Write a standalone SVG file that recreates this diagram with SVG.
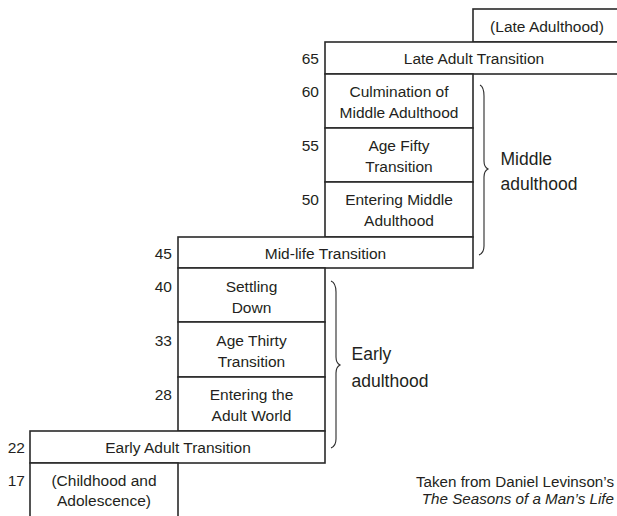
<svg xmlns="http://www.w3.org/2000/svg" width="617" height="516" viewBox="0 0 617 516">
<style>
  .box { fill: #ffffff; stroke: #2a2a2a; stroke-width: 1.6; }
  .t { font-family: "Liberation Sans", Arial, sans-serif; font-size: 15.5px; fill: #231f20; text-anchor: middle; }
  .age { font-family: "Liberation Sans", Arial, sans-serif; font-size: 15.5px; fill: #231f20; text-anchor: end; }
  .lbl { font-family: "Liberation Sans", Arial, sans-serif; font-size: 17.5px; fill: #231f20; }
  .cap { font-family: "Liberation Sans", Arial, sans-serif; font-size: 15.2px; fill: #231f20; text-anchor: end; }
  .brace { fill: none; stroke: #2a2a2a; stroke-width: 1.1; }
</style>
<rect width="617" height="516" fill="#ffffff"/>

<g id="late-adulthood">
  <rect class="box" x="473" y="9" width="150" height="33"/>
  <text class="t" x="547" y="32">(Late Adulthood)</text>
</g>
<g id="late-adult-transition">
  <rect class="box" x="325" y="42" width="298" height="32"/>
  <text class="age" x="319" y="64">65</text>
  <text class="t" x="474" y="64">Late Adult Transition</text>
</g>
<g id="culmination">
  <rect class="box" x="325" y="74" width="148" height="54"/>
  <text class="age" x="319" y="97">60</text>
  <text class="t" x="399" y="97">Culmination of</text>
  <text class="t" x="399" y="118">Middle Adulthood</text>
</g>
<g id="age-fifty">
  <rect class="box" x="325" y="128" width="148" height="54"/>
  <text class="age" x="319" y="151">55</text>
  <text class="t" x="399" y="151">Age Fifty</text>
  <text class="t" x="399" y="172">Transition</text>
</g>
<g id="entering-middle">
  <rect class="box" x="325" y="182" width="148" height="55"/>
  <text class="age" x="319" y="205">50</text>
  <text class="t" x="399" y="205">Entering Middle</text>
  <text class="t" x="399" y="226">Adulthood</text>
</g>
<g id="mid-life-transition">
  <rect class="box" x="178" y="237" width="295" height="31"/>
  <text class="age" x="172" y="259">45</text>
  <text class="t" x="325.5" y="259">Mid-life Transition</text>
</g>
<g id="settling-down">
  <rect class="box" x="178" y="268" width="147" height="54"/>
  <text class="age" x="172" y="292">40</text>
  <text class="t" x="251.5" y="292">Settling</text>
  <text class="t" x="251.5" y="313">Down</text>
</g>
<g id="age-thirty">
  <rect class="box" x="178" y="322" width="147" height="55"/>
  <text class="age" x="172" y="346">33</text>
  <text class="t" x="251.5" y="346">Age Thirty</text>
  <text class="t" x="251.5" y="367">Transition</text>
</g>
<g id="entering-adult-world">
  <rect class="box" x="178" y="377" width="147" height="54"/>
  <text class="age" x="172" y="400">28</text>
  <text class="t" x="251.5" y="400">Entering the</text>
  <text class="t" x="251.5" y="421">Adult World</text>
</g>
<g id="early-adult-transition">
  <rect class="box" x="30" y="431" width="295" height="32"/>
  <text class="age" x="25" y="453">22</text>
  <text class="t" x="178" y="453">Early Adult Transition</text>
</g>
<g id="childhood">
  <rect class="box" x="30" y="463" width="148" height="60"/>
  <text class="age" x="25" y="486">17</text>
  <text class="t" x="104" y="486">(Childhood and</text>
  <text class="t" x="104" y="506">Adolescence)</text>
</g>

<g id="connectors">
  <path class="brace" d="M480,85 Q484,87 484,96 L484,161 Q484,167 488,169 Q484,171 484,177 L484,246 Q484,253 479,255"/>
  <path class="brace" d="M331,281 Q336,283 336,292 L336,357 Q336,363 340,365 Q336,367 336,373 L336,439 Q336,446 331,448"/>
</g>

<g id="middle-adulthood-label">
  <text class="lbl" x="500.5" y="165">Middle</text>
  <text class="lbl" x="500.5" y="190">adulthood</text>
</g>
<g id="early-adulthood-label">
  <text class="lbl" x="351.5" y="360">Early</text>
  <text class="lbl" x="351.5" y="387">adulthood</text>
</g>
<g id="caption">
  <text class="cap" x="614" y="487">Taken from Daniel Levinson’s</text>
  <text class="cap" x="614" y="504" font-style="italic">The Seasons of a Man’s Life</text>
</g>
</svg>
